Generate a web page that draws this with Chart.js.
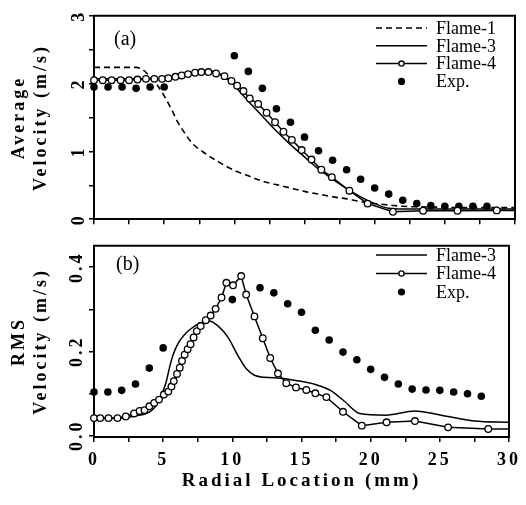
<!DOCTYPE html>
<html>
<head>
<meta charset="utf-8">
<script src="https://cdn.jsdelivr.net/npm/chart.js@4.4.1/dist/chart.umd.min.js"></script>
<style>
  body { margin: 0; background: #fff; }
  #wrap { position: relative; width: 526px; height: 505px; }
  canvas { position: absolute; left: 0; }
</style>
</head>
<body>
<div id="wrap">
  <canvas id="avg-chart" width="526" height="235" style="top:0"></canvas>
  <canvas id="rms-chart" width="526" height="270" style="top:235px"></canvas>
</div>
<script>
// axis ticks
const xTicks = [0, 2.5, 5, 7.5, 10, 12.5, 15, 17.5, 20, 22.5, 25, 27.5, 30];
const xTickLabels = ["0", "", "5", "", "10", "", "15", "", "20", "", "25", "", "30"];
const avgTicks = [0, 0.5, 1, 1.5, 2, 2.5, 3];
const avgTickLabels = ["0", "", "1", "", "2", "", "3"];
const rmsTicks = [0, 0.1, 0.2, 0.3, 0.4];
const rmsTickLabels = ["0.0", "", "0.2", "", "0.4"];

// (a) average velocity
const avgFlame1R = [0, 3, 3.5, 4, 4.5, 5, 5.5, 6, 6.5, 7, 8, 9, 10, 11, 12, 13, 14, 15, 16, 17, 18, 19, 20, 21, 22, 24, 27, 30];
const avgFlame1V = [2.24, 2.24, 2.2, 2.1, 1.98, 1.82, 1.63, 1.42, 1.26, 1.12, 0.96, 0.83, 0.72, 0.64, 0.56, 0.51, 0.46, 0.41, 0.37, 0.33, 0.3, 0.26, 0.23, 0.21, 0.19, 0.18, 0.17, 0.17];

const avgFlame3R = [0, 4.5, 5.5, 6.5, 7.5, 8.2, 9, 9.5, 10, 11, 12, 13, 14, 15, 16, 17, 18, 19, 20, 21, 22, 30];
const avgFlame3V = [2.07, 2.07, 2.1, 2.14, 2.18, 2.19, 2.14, 2.07, 1.97, 1.74, 1.52, 1.3, 1.1, 0.92, 0.74, 0.59, 0.45, 0.33, 0.23, 0.16, 0.15, 0.15];

const avgFlame4R = [0, 0.62, 1.26, 1.9, 2.5, 3.1, 3.7, 4.3, 4.85, 5.3, 5.8, 6.25, 6.7, 7.2, 7.65, 8.15, 8.7, 9.3, 9.8, 10.2, 10.65, 11.1, 11.7, 12.3, 12.9, 13.5, 14.1, 14.8, 15.5, 16.2, 16.95, 18.2, 19.5, 21.3, 23.45, 25.9, 28.7, 30];
const avgFlame4V = [2.05, 2.05, 2.05, 2.05, 2.05, 2.06, 2.07, 2.07, 2.07, 2.08, 2.1, 2.12, 2.14, 2.16, 2.17, 2.17, 2.15, 2.11, 2.04, 1.97, 1.89, 1.78, 1.7, 1.57, 1.43, 1.29, 1.17, 1.02, 0.88, 0.73, 0.62, 0.42, 0.23, 0.11, 0.125, 0.125, 0.13, 0.13];

const avgExpR = [0, 1, 2, 3, 4, 5, 10, 11, 12, 13, 14, 15, 16, 17, 18, 19, 20, 21, 22, 23, 24, 25, 26, 27, 28];
const avgExpV = [1.95, 1.95, 1.95, 1.93, 1.95, 1.95, 2.41, 2.18, 1.93, 1.63, 1.43, 1.21, 1.01, 0.87, 0.73, 0.59, 0.46, 0.37, 0.28, 0.23, 0.2, 0.19, 0.19, 0.19, 0.19];

// (b) rms velocity
const rmsFlame3R = [0, 2, 3, 4, 4.45, 4.85, 5.2, 5.45, 5.7, 6.1, 6.55, 7.1, 7.7, 8.3, 8.98, 9.69, 10.4, 11, 11.6, 12.3, 13.5, 14.7, 15.9, 17.1, 18.1, 19.2, 21.1, 23.2, 25.1, 27.5, 30];
const rmsFlame3V = [0.04, 0.041, 0.046, 0.055, 0.069, 0.093, 0.125, 0.16, 0.19, 0.22, 0.24, 0.256, 0.268, 0.272, 0.26, 0.233, 0.19, 0.159, 0.143, 0.138, 0.136, 0.13, 0.122, 0.107, 0.081, 0.052, 0.048, 0.058, 0.048, 0.034, 0.031];

const rmsFlame4R = [0, 0.45, 1.05, 1.7, 2.3, 2.9, 3.3, 3.65, 4, 4.35, 4.7, 5.05, 5.37, 5.6, 5.77, 6, 6.2, 6.36, 6.55, 6.77, 6.98, 7.2, 7.43, 7.71, 8.08, 8.43, 8.79, 9.22, 9.57, 10.05, 10.64, 11, 11.6, 12.2, 12.74, 13.3, 13.9, 14.6, 15.35, 16, 16.8, 18, 19.36, 21.15, 23.2, 25.6, 28.5, 30];
const rmsFlame4V = [0.041, 0.041, 0.041, 0.041, 0.045, 0.052, 0.058, 0.06, 0.069, 0.077, 0.085, 0.097, 0.104, 0.116, 0.129, 0.146, 0.161, 0.177, 0.192, 0.205, 0.217, 0.233, 0.248, 0.26, 0.274, 0.285, 0.301, 0.328, 0.363, 0.357, 0.379, 0.335, 0.283, 0.231, 0.184, 0.147, 0.124, 0.114, 0.108, 0.1, 0.091, 0.056, 0.023, 0.031, 0.034, 0.019, 0.015, 0.015];

const rmsExpR = [0, 1, 2, 3, 4, 5, 10, 12, 13, 14, 15, 16, 17, 18, 19, 20, 21, 22, 23, 24, 25, 26, 27, 28];
const rmsExpV = [0.103, 0.103, 0.107, 0.122, 0.16, 0.208, 0.323, 0.351, 0.339, 0.313, 0.293, 0.25, 0.227, 0.198, 0.18, 0.157, 0.138, 0.122, 0.11, 0.108, 0.107, 0.103, 0.099, 0.093];

const SERIF = "'Liberation Serif', 'Times New Roman', serif";
Chart.defaults.font.family = SERIF;
Chart.defaults.color = "#000";
Chart.defaults.animation = false;

function pairs(xs, ys) {
  return xs.map((x, i) => ({ x: x, y: ys[i] }));
}

// scanned look: wide letter spacing on axis text
const spacedText = {
  id: "spacedText",
  beforeDraw(chart) { chart.ctx.letterSpacing = "3px"; },
  afterDraw(chart) { chart.ctx.letterSpacing = "0px"; }
};

// top and right sides of the plot box
const frame = {
  id: "frame",
  afterDraw(chart) {
    const a = chart.chartArea;
    const ctx = chart.ctx;
    ctx.save();
    ctx.strokeStyle = "#000";
    ctx.lineWidth = 2;
    ctx.beginPath();
    ctx.moveTo(a.left - 1, a.top);
    ctx.lineTo(a.right, a.top);
    ctx.lineTo(a.right, a.bottom + 1);
    ctx.stroke();
    ctx.restore();
  }
};

// legend and panel tag inside the plot
const insideLegend = {
  id: "insideLegend",
  afterDatasetsDraw(chart, args, opts) {
    const ctx = chart.ctx;
    ctx.save();
    ctx.letterSpacing = "0px";
    ctx.fillStyle = "#000";
    ctx.strokeStyle = "#000";
    ctx.textBaseline = "middle";
    ctx.font = "20px " + SERIF;
    ctx.fillText(opts.tag, opts.tagX, opts.tagY);
    ctx.font = "18px " + SERIF;
    chart.data.datasets.forEach((ds, i) => {
      const y = opts.top + i * opts.step;
      const x0 = opts.left;
      const x1 = opts.left + 51;
      const xm = (x0 + x1) / 2;
      if (ds.showLine) {
        ctx.beginPath();
        ctx.setLineDash(ds.borderDash || []);
        ctx.lineWidth = ds.borderWidth;
        ctx.moveTo(x0, y);
        ctx.lineTo(x1, y);
        ctx.stroke();
        ctx.setLineDash([]);
      }
      if (ds.legendDot === "open") {
        ctx.beginPath();
        ctx.arc(xm, y, 2.6, 0, Math.PI * 2);
        ctx.fillStyle = "#fff";
        ctx.fill();
        ctx.lineWidth = 1.3;
        ctx.stroke();
        ctx.fillStyle = "#000";
      } else if (ds.legendDot === "filled") {
        ctx.beginPath();
        ctx.arc(xm, y, 3.6, 0, Math.PI * 2);
        ctx.fill();
      }
      ctx.fillText(ds.label, x1 + 9, y + 1);
    });
    ctx.restore();
  }
};

const gridOpts = { drawOnChartArea: false, tickLength: 5, color: "#000", lineWidth: 1.5 };
const borderOpts = { color: "#000", width: 2 };
const hideLast = (c) => (c.dataIndex === c.dataset.data.length - 1 ? 0 : 3.3);

function flame4(data) {
  return {
    label: "Flame-4", data: data, showLine: true, order: 0,
    borderColor: "#000", borderWidth: 1.5,
    pointRadius: hideLast, pointBackgroundColor: "#fff", pointBorderColor: "#000", pointBorderWidth: 1.3,
    clip: false, legendDot: "open"
  };
}
function flame3(data) {
  return {
    label: "Flame-3", data: data, showLine: true, order: 1,
    borderColor: "#000", borderWidth: 1.5, pointRadius: 0,
    cubicInterpolationMode: "monotone", clip: false
  };
}
function exp(data) {
  return {
    label: "Exp.", data: data, showLine: false, order: 3,
    pointRadius: 3.8, pointBackgroundColor: "#000", pointBorderWidth: 0,
    clip: false, legendDot: "filled"
  };
}

function xScale(showLabels, height) {
  return {
    type: "linear", min: 0, max: 30,
    afterBuildTicks: (s) => { s.ticks = xTicks.map((v) => ({ value: v })); },
    afterFit: (s) => { s.height = height; },
    ticks: {
      autoSkip: false, maxRotation: 0, padding: 8,
      font: { size: 18, weight: "bold" },
      callback: (v, i) => (showLabels ? xTickLabels[i] : "")
    },
    grid: gridOpts,
    border: borderOpts
  };
}

new Chart(document.getElementById("avg-chart"), {
  type: "scatter",
  data: {
    datasets: [
      {
        label: "Flame-1", data: pairs(avgFlame1R, avgFlame1V), showLine: true, order: 2,
        borderColor: "#000", borderWidth: 1.6, borderDash: [6, 4], pointRadius: 0,
        cubicInterpolationMode: "monotone", clip: false
      },
      flame3(pairs(avgFlame3R, avgFlame3V)),
      flame4(pairs(avgFlame4R, avgFlame4V)),
      exp(pairs(avgExpR, avgExpV))
    ]
  },
  options: {
    responsive: false,
    layout: { padding: { top: 15, right: 11, left: 0, bottom: 0 } },
    plugins: {
      legend: { display: false },
      tooltip: { enabled: false },
      insideLegend: { left: 376, top: 28, step: 17.8, tag: "(a)", tagX: 114, tagY: 40 }
    },
    scales: {
      x: xScale(false, 12),
      y: {
        min: 0, max: 3,
        afterBuildTicks: (s) => { s.ticks = avgTicks.map((v) => ({ value: v })); },
        afterFit: (s) => { s.width = 94; },
        ticks: {
          autoSkip: false, minRotation: 90, maxRotation: 90, crossAlign: "center", padding: 5,
          font: { size: 18, weight: "bold" },
          callback: (v, i) => avgTickLabels[i]
        },
        grid: gridOpts,
        border: borderOpts,
        title: {
          display: true, text: ["Average", "Velocity (m/s)"],
          font: { size: 18, weight: "bold", lineHeight: 1.22 },
          padding: { top: 8, bottom: 0 }
        }
      }
    }
  },
  plugins: [spacedText, frame, insideLegend]
});

new Chart(document.getElementById("rms-chart"), {
  type: "scatter",
  data: {
    datasets: [
      flame3(pairs(rmsFlame3R, rmsFlame3V)),
      flame4(pairs(rmsFlame4R, rmsFlame4V)),
      exp(pairs(rmsExpR, rmsExpV))
    ]
  },
  options: {
    responsive: false,
    layout: { padding: { top: 8, right: 11, left: 0, bottom: 0 } },
    plugins: {
      legend: { display: false },
      tooltip: { enabled: false },
      insideLegend: { left: 376, top: 20, step: 18.5, tag: "(b)", tagX: 116, tagY: 30 }
    },
    scales: {
      x: Object.assign(xScale(true, 68), {
        title: {
          display: true, text: "Radial Location (mm)",
          font: { size: 19, weight: "bold" },
          padding: { top: 0, bottom: 13 }
        }
      }),
      y: {
        min: -0.004, max: 0.451,
        afterBuildTicks: (s) => { s.ticks = rmsTicks.map((v) => ({ value: v })); },
        afterFit: (s) => { s.width = 94; },
        ticks: {
          autoSkip: false, minRotation: 90, maxRotation: 90, crossAlign: "center", padding: 0,
          font: { size: 18, weight: "bold" },
          callback: (v, i) => rmsTickLabels[i]
        },
        grid: gridOpts,
        border: borderOpts,
        title: {
          display: true, text: ["RMS", "Velocity (m/s)"],
          font: { size: 18, weight: "bold", lineHeight: 1.22 },
          padding: { top: 8, bottom: 0 }
        }
      }
    }
  },
  plugins: [spacedText, frame, insideLegend]
});
</script>
</body>
</html>
